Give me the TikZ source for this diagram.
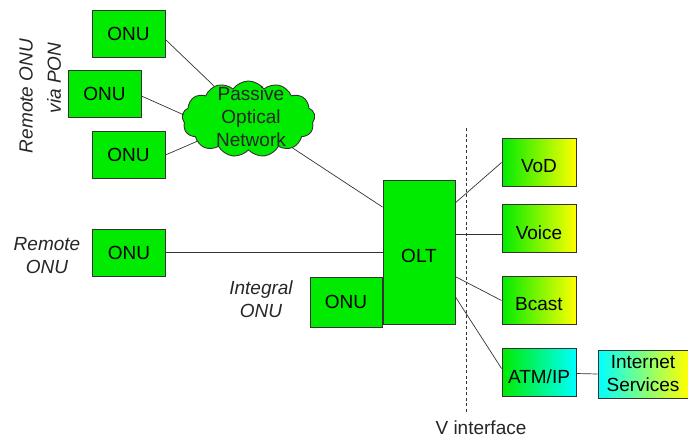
\documentclass[tikz,border=0pt]{standalone}
\usepackage{fontspec}
\setmainfont{Liberation Sans}
\usetikzlibrary{shapes.symbols,calc}
\definecolor{grn}{RGB}{0,235,0}
\definecolor{ylw}{RGB}{255,255,0}
\definecolor{cyn}{RGB}{0,255,255}
\newcommand{\lowtext}[1]{\raisebox{-4pt}[\height][\depth]{#1}}
\begin{document}
\begin{tikzpicture}[x=1pt,y=-1pt,
  box/.style={draw=black!80, line width=0.9pt, fill=grn, inner sep=0pt,
    font=\fontsize{19}{23}\selectfont, align=center},
  onu/.style={box, minimum width=73pt, minimum height=47pt},
  svc/.style={box, shade, left color=grn, right color=ylw, minimum width=74pt, minimum height=48pt},
  lbl/.style={font=\fontsize{19}{23}\selectfont\itshape, align=center, text=black!85},
  conn/.style={draw=black!80, line width=0.7pt}]
\useasboundingbox (0,0) rectangle (688,440);

% PON ONUs and cloud
\node[onu] (onu1) at (128.5,33.5) {ONU};
\node[onu] (onu2) at (104.5,94) {ONU};
\node[onu] (onu3) at (128.5,155) {ONU};
\node[cloud, cloud puffs=13, cloud puff arc=110, aspect=1.7, draw=black!80,
  line width=0.9pt, fill=grn, minimum width=133pt, minimum height=76pt, inner sep=0pt] (cloud) at (248.5,119) {};

% OLT and other ONUs
\node[box, minimum width=72pt, minimum height=144pt] (olt) at (419,252) {\lowtext{OLT}};
\node[onu] (ronu) at (129,252.5) {ONU};
\node[onu, minimum width=72pt, minimum height=50pt] (iornu) at (346,302) {ONU};

% services
\node[svc] (vod) at (539,162.5) {\lowtext{VoD}};
\node[svc] (voice) at (539,228.5) {\lowtext{Voice}};
\node[svc] (bcast) at (539,300.5) {\lowtext{Bcast}};
\node[svc, right color=cyn] (atm) at (539,372.5) {\lowtext{ATM/IP}};
\node[svc, left color=cyn, right color=ylw, minimum width=90pt, minimum height=48pt] (inet) at (643,374) {Internet\\Services};

% labels
\node[lbl, rotate=90] (lpon1) at (26,96) {Remote ONU};
\node[lbl, rotate=90] (lpon2) at (54,78) {via PON};
\node[lbl] (lremote) at (47,256) {Remote\\ONU};
\node[lbl] (lintegral) at (261,299) {Integral\\ONU};
\node[font=\fontsize{19}{23}\selectfont, text=black!85] (vlabel) at (481,428) {V interface};

% V interface line
\coordinate (vtop) at (466,128);
\coordinate (vbot) at (466,412);
\draw[black!80, line width=0.9pt, dash pattern=on 3pt off 2.5pt] (vtop) -- (vbot);

% connectors
\draw[conn] ($(onu1.east)+(0,6)$) -- (cloud);
\draw[conn] ($(onu2.east)+(0,2)$) -- ($(cloud.west)+(2,-4)$);
\draw[conn] (onu3.east) -- (cloud);
\draw[conn] (cloud) -- ($(olt.north west)!0.19!(olt.south west)$);
\draw[conn] (ronu.east) -- (ronu.east -| olt.west);
\draw[conn] ($(olt.north east)!0.16!(olt.south east)$) -- (vod.west);
\draw[conn] ($(voice.west)+(0,6)$) -- ($(voice.west -| olt.east)+(0,6)$);
\draw[conn] ($(olt.north east)!0.67!(olt.south east)$) -- (bcast.west);
\draw[conn] ($(olt.north east)!0.81!(olt.south east)$) -- ($(atm.west)+(0,-4)$);
\draw[conn] ($(atm.east)+(0,1)$) -- (inet.west);

% cloud text
\node[font=\fontsize{19}{23}\selectfont, align=center, text=black!85] (ctext) at (251,117) {Passive\\Optical\\Network};
\end{tikzpicture}
\end{document}
